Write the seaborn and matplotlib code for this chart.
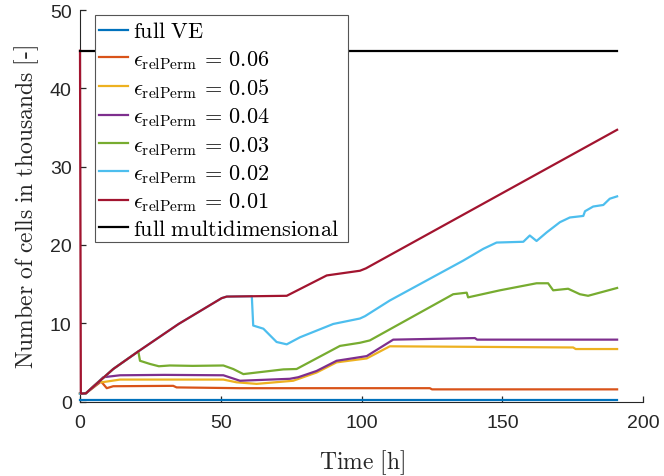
import matplotlib
matplotlib.use("Agg")
import matplotlib.pyplot as plt
from matplotlib.patches import Rectangle
import seaborn as sns
import pandas as pd

# ---------------- data ----------------
labels = [
    r"$\mathrm{full\ VE}$",
    r"$\epsilon_{\mathrm{relPerm}}\,=\,0.06$",
    r"$\epsilon_{\mathrm{relPerm}}\,=\,0.05$",
    r"$\epsilon_{\mathrm{relPerm}}\,=\,0.04$",
    r"$\epsilon_{\mathrm{relPerm}}\,=\,0.03$",
    r"$\epsilon_{\mathrm{relPerm}}\,=\,0.02$",
    r"$\epsilon_{\mathrm{relPerm}}\,=\,0.01$",
    r"$\mathrm{full\ multidimensional}$",
]
colors = ["#0072BD", "#D95319", "#EDB120", "#7E2F8E",
          "#77AC30", "#4DBEEE", "#A2142F", "#000000"]

t_ve = [0, 190.7]
y_ve = [0.22, 0.22]

t_e06 = [0, 2.1, 7.5, 9.5, 11.8, 33.1, 34.3, 56.8, 124.2, 125.0, 190.7]
y_e06 = [1.0, 1.05, 2.55, 1.7, 1.95, 2.0, 1.8, 1.7, 1.7, 1.55, 1.55]

t_e05 = [0, 2.1, 7.0, 7.7, 14.2, 50.9, 55.6, 62.7, 75.7, 84.0, 91.1, 101.8,
         110.0, 175.1, 176.0, 190.7]
y_e05 = [1.0, 1.05, 2.65, 2.45, 2.8, 2.8, 2.45, 2.25, 2.65, 3.7, 5.0, 5.5,
         7.05, 6.9, 6.7, 6.7]

t_e04 = [0, 2.1, 8.3, 14.2, 30, 50.9, 56.8, 74.5, 77.5, 84.0, 91.1, 94.7,
         101.8, 111.2, 140.2, 141.0, 190.7]
y_e04 = [1.0, 1.05, 3.1, 3.35, 3.4, 3.35, 2.65, 2.9, 3.1, 3.9, 5.2, 5.4,
         5.8, 7.9, 8.1, 7.9, 7.9]

t_e03 = [0, 2.1, 11.8, 20.7, 21.3, 24.8, 28, 31.9, 40, 50.9, 54.4, 58.0,
         62.7, 72.2, 76.9, 92.3, 99.4, 102.9, 132.5, 137.3, 137.8, 149.1,
         162.1, 166.2, 168.0, 173.3, 177.5, 180.4, 190.7]
y_e03 = [1.0, 1.05, 4.15, 6.4, 5.2, 4.8, 4.5, 4.6, 4.55, 4.6, 4.15, 3.5,
         3.7, 4.1, 4.15, 7.1, 7.5, 7.8, 13.7, 13.9, 13.3, 14.2,
         15.1, 15.1, 14.2, 14.4, 13.7, 13.5, 14.5]

t_e02 = [0, 2.1, 11.8, 20.7, 35, 50.3, 52.1, 61.0, 61.5, 65.1, 69.8, 73.4,
         78.1, 89.9, 99.4, 101.2, 110.0, 136.1, 143.2, 147.9, 157.4, 159.7,
         162.1, 165.7, 170.4, 173.9, 178.7, 179.3, 182.2, 185.8, 188.1, 190.7]
y_e02 = [1.0, 1.05, 4.15, 6.4, 9.9, 13.2, 13.4, 13.45, 9.7, 9.3, 7.6, 7.3,
         8.2, 9.9, 10.6, 10.9, 12.9, 18.0, 19.5, 20.3, 20.4, 21.2,
         20.5, 21.6, 22.9, 23.5, 23.7, 24.3, 24.9, 25.1, 25.9, 26.2]

t_e01 = [0, 0.3, 2.1, 11.8, 20.7, 35, 50.3, 52.1, 73.4, 87.6, 99.4, 101.5, 190.7]
y_e01 = [44.8, 1.0, 1.05, 4.15, 6.4, 9.9, 13.2, 13.4, 13.5, 16.1, 16.7, 17.0, 34.7]

t_full = [0, 190.7]
y_full = [44.8, 44.8]

series_t = [t_ve, t_e06, t_e05, t_e04, t_e03, t_e02, t_e01, t_full]
series_y = [y_ve, y_e06, y_e05, y_e04, y_e03, y_e02, y_e01, y_full]

x_ticks = [0, 50, 100, 150, 200]
y_ticks = [0, 10, 20, 30, 40, 50]

# ---------------- plot ----------------
plt.rcParams["mathtext.fontset"] = "cm"
plt.rcParams["font.family"] = ["Liberation Sans", "DejaVu Sans"]
plt.rcParams["axes.grid"] = False

W, H = 664, 477
fig = plt.figure(figsize=(W / 100, H / 100), dpi=100)
ax_l, ax_r, ax_t, ax_b = 80, 643.3, 11, 402.5
ax = fig.add_axes([ax_l / W, 1 - ax_b / H, (ax_r - ax_l) / W, (ax_b - ax_t) / H])

frames = []
for lab, tt, yy in zip(labels, series_t, series_y):
    frames.append(pd.DataFrame({"t": tt, "n": yy, "series": lab}))
df = pd.concat(frames, ignore_index=True)

for lab, col in zip(labels, colors):
    sub = df[df["series"] == lab]
    sns.lineplot(data=sub, x="t", y="n", color=col, lw=1.6, sort=False,
                 estimator=None, ax=ax, label=lab, clip_on=False, zorder=3)

ax.set_xlim(0, 200)
ax.set_ylim(0, 50)
ax.set_xticks(x_ticks)
ax.set_yticks(y_ticks)
ax.xaxis.set_ticks_position("bottom")
ax.yaxis.set_ticks_position("left")
ax.tick_params(which="major", direction="in", length=4.5, width=0.9,
               color="#262626", labelcolor="#262626", labelsize=14)
ax.tick_params(axis="x", pad=9)
ax.tick_params(axis="y", pad=6)
for s in ["top", "right"]:
    ax.spines[s].set_visible(False)
for s in ["left", "bottom"]:
    ax.spines[s].set_color("#262626")
    ax.spines[s].set_linewidth(0.8)

ax.set_xlabel(r"$\mathrm{Time\ [h]}$", fontsize=17, color="#262626", labelpad=12)
ax.set_ylabel(r"$\mathrm{Number\ of\ cells\ in\ thousands\ [\text{-}]}$",
              fontsize=17, color="#262626", labelpad=6)

# legend box (MATLAB style) and entries
box_l, box_t, box_r, box_b = 94.5, 15.5, 347.7, 243.3
rect = Rectangle((box_l / W, 1 - box_b / H), (box_r - box_l) / W, (box_b - box_t) / H,
                 transform=fig.transFigure, facecolor="white", edgecolor="#555555",
                 linewidth=0.8, zorder=4, clip_on=False)
ax.add_patch(rect)

leg = ax.legend(loc="upper left",
                bbox_to_anchor=((99.3 - ax_l) / (ax_r - ax_l), 1 - (22.3 - ax_t) / (ax_b - ax_t)),
                fontsize=16, frameon=False, handlelength=1.3, handletextpad=0.22,
                labelspacing=0.25, borderpad=0, borderaxespad=0)
leg.set_zorder(5)
for h in leg.get_lines():
    h.set_linewidth(1.6)

fig.savefig("out.png", dpi=100)
